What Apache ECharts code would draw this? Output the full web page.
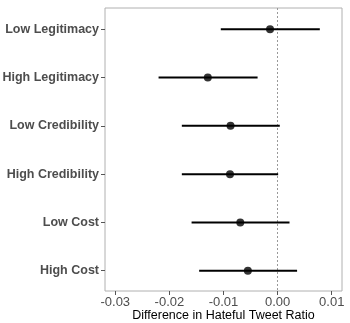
<!DOCTYPE html>
<html>
<head>
<meta charset="utf-8">
<script src="https://cdn.jsdelivr.net/npm/echarts@6/dist/echarts.min.js"></script>
<style>
  html, body { margin: 0; padding: 0; background: #fff; }
  #chart { width: 350px; height: 323px; }
</style>
</head>
<body>
<div id="chart"></div>
<script>
// Treatment conditions, top to bottom
const categories = ['Low Legitimacy', 'High Legitimacy', 'Low Credibility', 'High Credibility', 'Low Cost', 'High Cost'];
// Point estimates and 95% interval bounds
const estimates = [-0.0014, -0.0129, -0.0087, -0.0088, -0.0069, -0.0055];
const lower     = [-0.0105, -0.0220, -0.0177, -0.0177, -0.0159, -0.0145];
const upper     = [ 0.0078, -0.0037,  0.0004,  0.0001,  0.0022,  0.0036];
const xTicks = [-0.03, -0.02, -0.01, 0.00, 0.01];
const rowIdx = categories.map((_, i) => i);

const chart = echarts.init(document.getElementById('chart'), null, { renderer: 'canvas' });

const intervalData = categories.map((_, i) => [lower[i], i, upper[i]]);
const pointData = categories.map((_, i) => [estimates[i], i]);

chart.setOption({
  animation: false,
  backgroundColor: '#ffffff',
  grid: {
    left: 105, right: 8, top: 8, bottom: 32,
    containLabel: false,
    outerBoundsMode: 'none',
    show: true, borderColor: '#b0b0b0', borderWidth: 1, backgroundColor: '#ffffff'
  },
  xAxis: {
    type: 'value',
    min: -0.0319, max: 0.0119,
    axisLine: { show: false, onZero: false },
    splitLine: { show: false },
    axisTick: { show: true, length: 4, lineStyle: { color: '#555' }, customValues: xTicks },
    axisLabel: {
      customValues: xTicks, margin: 5, color: '#4d4d4d', fontSize: 13,
      fontFamily: 'Liberation Sans',
      formatter: v => v.toFixed(2)
    },
    name: 'Difference in Hateful Tweet Ratio',
    nameLocation: 'middle', nameGap: 18,
    nameMoveOverlap: false,
    nameTextStyle: { color: '#000', fontSize: 12.5, fontFamily: 'Liberation Sans', verticalAlign: 'top' }
  },
  yAxis: {
    type: 'value',
    inverse: true,
    min: -0.44, max: 5.42,
    axisLine: { show: false, onZero: false },
    splitLine: { show: false },
    axisTick: { show: true, length: 4, lineStyle: { color: '#555' }, customValues: rowIdx },
    axisLabel: {
      customValues: rowIdx, margin: 6, color: '#4d4d4d', fontSize: 12.5,
      fontWeight: 'bold', fontFamily: 'Liberation Sans',
      formatter: v => categories[Math.round(v)]
    }
  },
  series: [
    {
      type: 'custom',
      data: intervalData,
      encode: { x: [0, 2], y: 1 },
      renderItem: (params, api) => {
        const a = api.coord([api.value(0), api.value(1)]);
        const b = api.coord([api.value(2), api.value(1)]);
        return {
          type: 'line',
          shape: { x1: a[0], y1: a[1], x2: b[0], y2: b[1] },
          style: { stroke: '#000', lineWidth: 2 }
        };
      },
      z: 3
    },
    {
      type: 'scatter',
      data: pointData,
      symbol: 'circle',
      symbolSize: 8,
      itemStyle: { color: '#000' },
      z: 4,
      markLine: {
        silent: true,
        symbol: 'none',
        label: { show: false },
        lineStyle: { color: '#999', width: 1, type: [2, 2] },
        data: [{ xAxis: 0 }],
        z: 2
      }
    }
  ]
});
</script>
</body>
</html>
